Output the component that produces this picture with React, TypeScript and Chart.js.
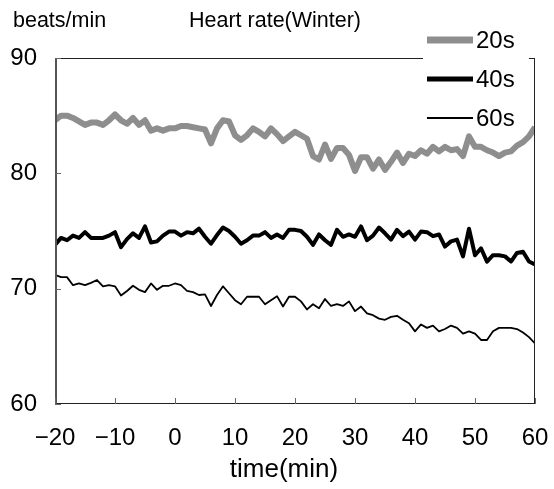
import { useEffect, useRef } from "react";
import { Chart, registerables } from "chart.js";

Chart.register(...registerables);

const minutes = [
  -20, -19, -18, -17, -16, -15, -14, -13, -12, -11,
  -10, -9, -8, -7, -6, -5, -4, -3, -2, -1,
  0, 1, 2, 3, 4, 5, 6, 7, 8, 9,
  10, 11, 12, 13, 14, 15, 16, 17, 18, 19,
  20, 21, 22, 23, 24, 25, 26, 27, 28, 29,
  30, 31, 32, 33, 34, 35, 36, 37, 38, 39,
  40, 41, 42, 43, 44, 45, 46, 47, 48, 49,
  50, 51, 52, 53, 54, 55, 56, 57, 58, 59,
  60,
];

const hr20s = [
  84.6, 85.0, 85.0, 84.8, 84.5, 84.2, 84.4, 84.4, 84.2, 84.6,
  85.1, 84.6, 84.3, 84.8, 84.2, 84.6, 83.7, 83.9, 83.7, 83.9,
  83.9, 84.1, 84.1, 84.0, 83.9, 83.8, 82.6, 83.9, 84.6, 84.5,
  83.3, 82.9, 83.3, 83.9, 83.6, 83.2, 83.9, 83.4, 82.8, 83.2,
  83.6, 83.3, 83.0, 81.5, 81.2, 82.5, 81.25, 82.2, 82.2, 81.6,
  80.2, 81.4, 81.4, 80.4, 81.2, 80.3, 81.0, 81.8, 80.9, 81.7,
  81.5, 82.0, 81.7, 82.3, 81.9, 82.3, 82.0, 82.1, 81.5, 83.2,
  82.3, 82.3, 82.0, 81.8, 81.5, 81.8, 81.9, 82.4, 82.7, 83.2,
  84.0,
];

const hr40s = [
  73.8, 74.4, 74.2, 74.6, 74.4, 74.9, 74.4, 74.4, 74.4, 74.6,
  74.9, 73.6, 74.3, 74.8, 74.4, 75.4, 74.0, 74.1, 74.6, 74.95,
  74.95, 74.6, 74.9, 74.8, 75.2, 74.5, 73.9, 74.65, 75.3, 75.0,
  74.5, 73.9, 74.2, 74.6, 74.6, 74.9, 74.4, 74.7, 74.4, 75.1,
  75.1, 75.0, 74.5, 73.8, 74.7, 74.2, 73.8, 75.1, 74.5, 74.7,
  74.5, 75.4, 74.2, 74.6, 75.3, 74.8, 74.25, 75.1, 74.55, 74.95,
  74.25, 74.95, 74.9, 74.55, 74.7, 73.65, 74.1, 74.25, 72.8, 75.2,
  72.9, 73.5, 72.35, 72.9, 72.9, 72.8, 72.35, 73.1, 73.2, 72.35,
  72.1,
];

const hr60s = [
  71.2, 71.0, 71.0, 70.3, 70.45, 70.3, 70.5, 70.75, 70.2, 70.3,
  70.2, 69.4, 69.8, 70.25, 69.9, 69.7, 70.45, 69.9, 70.25, 70.25,
  70.45, 70.3, 69.8, 69.7, 69.45, 69.5, 68.5, 69.45, 70.2, 69.6,
  69.0, 68.65, 69.3, 69.3, 69.3, 68.65, 69.0, 69.35, 68.45, 69.3,
  69.3, 68.9, 68.2, 68.65, 68.3, 69.1, 68.5, 68.65, 68.5, 68.9,
  68.05, 68.45, 67.85, 67.7, 67.4, 67.3, 67.55, 67.65, 67.3, 67.0,
  66.3, 66.9, 66.6, 66.8, 66.3, 66.5, 66.8, 66.6, 66.1, 66.3,
  66.1, 65.55, 65.55, 66.3, 66.6, 66.6, 66.6, 66.5, 66.2, 65.8,
  65.25,
];

const seriesLabels = ["20s", "40s", "60s"];
const chartTitle = "Heart rate(Winter)";
const yAxisTitle = "beats/min";
const xAxisTitle = "time(min)";

const SANS = "'Liberation Sans', Arial, sans-serif";
const legendWidths = [7, 5, 2];

const decorPlugin = {
  id: "decor",
  afterDraw(chart: any) {
    const ctx = chart.ctx as CanvasRenderingContext2D;
    const { left, right, top, bottom } = chart.chartArea;
    const xs = chart.scales.x;
    const ys = chart.scales.y;
    ctx.save();
    // frame
    ctx.strokeStyle = "#222";
    ctx.lineWidth = 1;
    ctx.beginPath();
    ctx.moveTo(left, top + 0.5);
    ctx.lineTo(right, top + 0.5);
    ctx.moveTo(right - 0.5, top);
    ctx.lineTo(right - 0.5, bottom);
    ctx.moveTo(left, bottom - 0.5);
    ctx.lineTo(right, bottom - 0.5);
    ctx.stroke();
    ctx.strokeStyle = "#555";
    ctx.lineWidth = 2;
    ctx.beginPath();
    ctx.moveTo(left + 1, top);
    ctx.lineTo(left + 1, bottom);
    ctx.stroke();
    // inward ticks
    ctx.strokeStyle = "#666";
    ctx.lineWidth = 1;
    ctx.beginPath();
    xs.ticks.forEach((t: any) => {
      const px = Math.round(xs.getPixelForValue(t.value)) + 0.5;
      ctx.moveTo(px, bottom);
      ctx.lineTo(px, bottom - 6);
    });
    ys.ticks.forEach((t: any) => {
      const py = Math.round(ys.getPixelForValue(t.value)) + 0.5;
      ctx.moveTo(left, py);
      ctx.lineTo(left + 6, py);
    });
    ctx.stroke();
    // legend
    ctx.fillStyle = "#fff";
    ctx.fillRect(423, 24, 106, 107);
    chart.data.datasets.forEach((ds: any, i: number) => {
      const y = 40 + i * 39;
      ctx.strokeStyle = ds.borderColor;
      ctx.lineWidth = legendWidths[i];
      ctx.lineCap = "butt";
      ctx.beginPath();
      ctx.moveTo(427, y);
      ctx.lineTo(473, y);
      ctx.stroke();
      ctx.fillStyle = "#000";
      ctx.font = `24px ${SANS}`;
      ctx.textAlign = "left";
      ctx.textBaseline = "middle";
      ctx.fillText(ds.label, 476, y + 1);
    });
    // titles
    ctx.fillStyle = "#000";
    ctx.font = `21.5px ${SANS}`;
    ctx.textAlign = "left";
    ctx.textBaseline = "middle";
    ctx.fillText(yAxisTitle, 13, 21);
    ctx.fillText(chartTitle, 189, 21);
    ctx.font = `26px ${SANS}`;
    ctx.textAlign = "center";
    ctx.fillText(xAxisTitle, 284, 470);
    ctx.restore();
  },
};

export default function App() {
  const ref = useRef<HTMLCanvasElement | null>(null);
  useEffect(() => {
    if (!ref.current) return;
    const mk = (vals: number[]) => minutes.map((m, i) => ({ x: m, y: vals[i] }));
    const chart = new Chart(ref.current, {
      type: "line",
      data: {
        datasets: [
          { label: seriesLabels[0], data: mk(hr20s), borderColor: "#8e8e8e", borderWidth: 6 },
          { label: seriesLabels[1], data: mk(hr40s), borderColor: "#000", borderWidth: 4 },
          { label: seriesLabels[2], data: mk(hr60s), borderColor: "#000", borderWidth: 1.8 },
        ],
      },
      options: {
        animation: false,
        responsive: false,
        devicePixelRatio: 1,
        layout: { padding: { left: 0, right: 19, top: 58, bottom: 0 } },
        elements: {
          point: { radius: 0 },
          line: { tension: 0, borderJoinStyle: "round", fill: false },
        },
        plugins: {
          legend: { display: false },
          title: { display: false },
          tooltip: { enabled: false },
        },
        scales: {
          x: {
            type: "linear",
            min: -20,
            max: 60,
            grid: { display: true, drawOnChartArea: false, drawTicks: true, tickLength: 17, color: "rgba(0,0,0,0)" },
            border: { display: false },
            ticks: {
              stepSize: 10,
              color: "#000",
              padding: 3,
              font: { family: SANS, size: 24 },
              callback: (v: any) => String(v).replace("-", "\u2212"),
            },
            afterFit: (s: any) => {
              s.height = 85;
            },
          },
          y: {
            type: "linear",
            min: 60,
            max: 90,
            grid: { display: true, drawOnChartArea: false, drawTicks: true, tickLength: 15, color: "rgba(0,0,0,0)" },
            border: { display: false },
            ticks: {
              stepSize: 10,
              color: "#000",
              padding: 3,
              font: { family: SANS, size: 24 },
            },
            afterFit: (s: any) => {
              s.width = 55;
            },
          },
        },
      },
      plugins: [decorPlugin],
    });
    return () => chart.destroy();
  }, []);
  return (
    <div style={{ position: "fixed", left: 0, top: 0, width: 554, height: 489, background: "#fff" }}>
      <canvas ref={ref} width={554} height={489} style={{ display: "block" }} />
    </div>
  );
}
